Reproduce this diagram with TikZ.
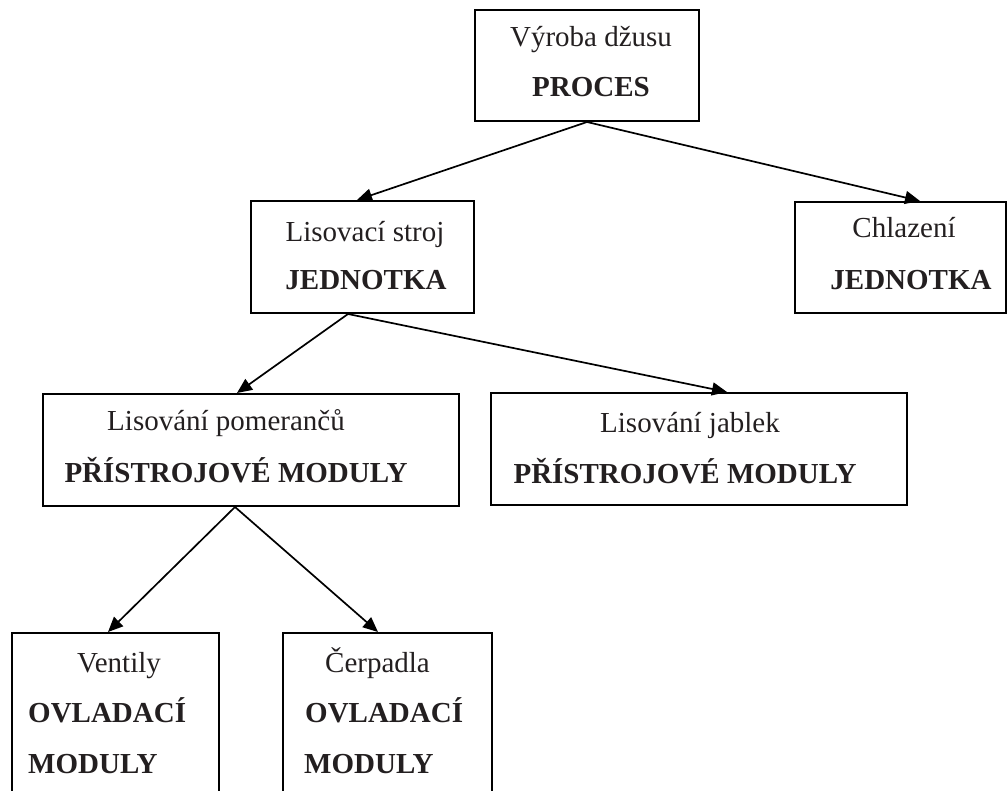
\documentclass[tikz,border=0pt]{standalone}
\usepackage{fontspec}
\setmainfont{Liberation Serif}
\usetikzlibrary{arrows.meta}
\definecolor{ink}{RGB}{35,31,32}
\begin{document}
\begin{tikzpicture}[x=1pt,y=-1pt,
  box/.style={draw=black, line width=2pt, inner sep=0pt},
  lbl/.style={text=ink, font=\fontsize{29}{29}\selectfont, inner sep=0pt, anchor=base},
  blbl/.style={lbl, font=\fontsize{29}{29}\selectfont\bfseries},
  arr/.style={draw=black, line width=1.7pt, -{Triangle[length=15pt,width=13pt]}}]
\useasboundingbox (0,0) rectangle (1008,791);
\clip (0,0) rectangle (1008,791);
% boxes
\node[box, minimum width=224pt, minimum height=111pt] (P) at (587,65.5) {};
\node[box, minimum width=223pt, minimum height=112pt] (L) at (362.5,257) {};
\node[box, minimum width=211pt, minimum height=111pt] (C) at (900.5,257.5) {};
\node[box, minimum width=416pt, minimum height=112pt] (LP) at (251,450) {};
\node[box, minimum width=416pt, minimum height=112pt] (LJ) at (699,449) {};
\node[box, minimum width=207pt, minimum height=217pt] (V) at (115.5,741.5) {};
\node[box, minimum width=209pt, minimum height=217pt] (CE) at (387.5,741.5) {};
% texts
\node[lbl] (t1) at (591,47) {Výroba džusu};
\node[blbl] (t2) at (591,97) {PROCES};
\node[lbl] (t3) at (365,242) {Lisovací stroj};
\node[blbl] (t4) at (366,290) {JEDNOTKA};
\node[lbl] (t5) at (904,238) {Chlazení};
\node[blbl] (t6) at (911,290) {JEDNOTKA};
\node[lbl] (t7) at (226,430) {Lisování pomerančů};
\node[blbl] (t8) at (236,482) {PŘÍSTROJOVÉ MODULY};
\node[lbl] (t9) at (690,432) {Lisování jablek};
\node[blbl] (t10) at (685,483) {PŘÍSTROJOVÉ MODULY};
\node[lbl] (t11) at (119,672) {Ventily};
\node[blbl, anchor=base west] (t12) at (28,722) {OVLADACÍ};
\node[blbl, anchor=base west] (t13) at (28,773) {MODULY};
\node[lbl] (t14) at (377.5,672) {Čerpadla};
\node[blbl, anchor=base west] (t15) at (305,722) {OVLADACÍ};
\node[blbl, anchor=base west] (t16) at (304,773) {MODULY};
% connectors
\draw[arr] (P.south) -- ([xshift=-5.5pt]L.north);
\draw[arr] (P.south) -- ([xshift=19.5pt]C.north);
\draw[arr] ([xshift=-14.5pt]L.south) -- ([xshift=-14pt]LP.north);
\draw[arr] ([xshift=-14.5pt]L.south) -- ([xshift=28pt]LJ.north);
\draw[arr] ([xshift=-16pt]LP.south) -- ([xshift=-7.5pt]V.north);
\draw[arr] ([xshift=-16pt]LP.south) -- ([xshift=-9.5pt]CE.north);
\end{tikzpicture}
\end{document}
